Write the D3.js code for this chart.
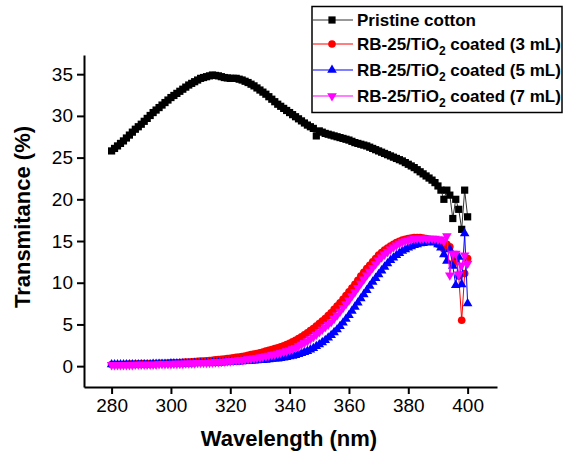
<!DOCTYPE html>
<html>
<head>
<meta charset="utf-8">
<script src="https://cdn.jsdelivr.net/npm/d3@7"></script>
<style>
  body { margin: 0; background: #fff; }
  svg { display: block; font-family: "Liberation Sans", Arial, sans-serif; }
</style>
</head>
<body>
<svg></svg>
<script>
const width = 565;
const height = 453;

// wavelengths (nm), 1 nm steps
const wavelength = [
  280, 281, 282, 283, 284, 285, 286, 287, 288, 289,
  290, 291, 292, 293, 294, 295, 296, 297, 298, 299,
  300, 301, 302, 303, 304, 305, 306, 307, 308, 309,
  310, 311, 312, 313, 314, 315, 316, 317, 318, 319,
  320, 321, 322, 323, 324, 325, 326, 327, 328, 329,
  330, 331, 332, 333, 334, 335, 336, 337, 338, 339,
  340, 341, 342, 343, 344, 345, 346, 347, 348, 349,
  350, 351, 352, 353, 354, 355, 356, 357, 358, 359,
  360, 361, 362, 363, 364, 365, 366, 367, 368, 369,
  370, 371, 372, 373, 374, 375, 376, 377, 378, 379,
  380, 381, 382, 383, 384, 385, 386, 387, 388, 389,
  390, 391, 392, 393, 394, 395, 396, 397, 398, 399,
  400
];

const pristine = [
  25.8, 26.1, 26.4, 26.7, 27.0, 27.35, 27.7, 28.05, 28.4, 28.7,
  29.0, 29.35, 29.7, 30.05, 30.4, 30.7, 31.0, 31.3, 31.6, 31.9,
  32.2, 32.45, 32.7, 32.95, 33.2, 33.45, 33.7, 33.9, 34.1, 34.3,
  34.5, 34.6, 34.7, 34.8, 34.9, 34.85, 34.8, 34.7, 34.6, 34.55,
  34.5, 34.5, 34.5, 34.4, 34.3, 34.15, 34.0, 33.8, 33.6, 33.35,
  33.1, 32.85, 32.6, 32.3, 32.0, 31.7, 31.4, 31.15, 30.9, 30.65,
  30.4, 30.15, 29.9, 29.65, 29.4, 29.15, 28.9, 28.7, 28.5, 27.6,
  28.2, 28.05, 27.9, 27.8, 27.7, 27.6, 27.5, 27.4, 27.3, 27.2,
  27.1, 26.95, 26.8, 26.7, 26.6, 26.5, 26.4, 26.25, 26.1, 25.95,
  25.8, 25.65, 25.5, 25.35, 25.2, 25.05, 24.9, 24.75, 24.6, 24.4,
  24.2, 24.0, 23.8, 23.55, 23.3, 23.05, 22.8, 22.55, 22.3, 22.0,
  21.6, 21.1, 20.0, 21.1, 20.5, 17.7, 20.0, 18.8, 16.4, 21.1,
  17.9
];

const coated3 = [
  0.2, 0.2, 0.2, 0.2, 0.2, 0.22, 0.25, 0.25, 0.25, 0.28,
  0.3, 0.3, 0.3, 0.3, 0.3, 0.32, 0.35, 0.35, 0.35, 0.38,
  0.4, 0.4, 0.4, 0.42, 0.45, 0.48, 0.5, 0.52, 0.55, 0.58,
  0.6, 0.62, 0.65, 0.68, 0.7, 0.75, 0.8, 0.82, 0.85, 0.9,
  0.95, 1.0, 1.05, 1.1, 1.15, 1.22, 1.3, 1.38, 1.45, 1.52,
  1.6, 1.7, 1.8, 1.9, 2.0, 2.1, 2.2, 2.32, 2.45, 2.6,
  2.75, 2.92, 3.1, 3.3, 3.5, 3.75, 4.0, 4.25, 4.5, 4.8,
  5.1, 5.4, 5.7, 6.05, 6.4, 6.8, 7.2, 7.6, 8.0, 8.45,
  8.9, 9.35, 9.8, 10.3, 10.8, 11.25, 11.7, 12.1, 12.5, 12.9,
  13.3, 13.6, 13.9, 14.15, 14.4, 14.6, 14.8, 14.95, 15.1, 15.2,
  15.3, 15.35, 15.4, 15.4, 15.4, 15.35, 15.3, 15.2, 15.1, 14.9,
  14.6, 14.4, 14.0, 14.6, 14.3, 12.3, 12.8, 10.8, 5.5, 11.1,
  12.9
];

const coated5 = [
  0.2, 0.2, 0.2, 0.2, 0.2, 0.2, 0.2, 0.2, 0.2, 0.2,
  0.2, 0.2, 0.2, 0.2, 0.25, 0.25, 0.25, 0.25, 0.25, 0.25,
  0.3, 0.3, 0.3, 0.3, 0.3, 0.3, 0.3, 0.3, 0.35, 0.35,
  0.35, 0.35, 0.35, 0.35, 0.4, 0.4, 0.4, 0.4, 0.45, 0.47,
  0.5, 0.5, 0.5, 0.52, 0.55, 0.58, 0.6, 0.62, 0.65, 0.68,
  0.7, 0.72, 0.75, 0.8, 0.85, 0.88, 0.9, 0.95, 1.0, 1.08,
  1.15, 1.22, 1.3, 1.42, 1.55, 1.68, 1.8, 1.98, 2.15, 2.38,
  2.6, 2.85, 3.1, 3.4, 3.7, 4.05, 4.4, 4.8, 5.2, 5.65,
  6.1, 6.6, 7.1, 7.6, 8.1, 8.6, 9.1, 9.6, 10.1, 10.55,
  11.0, 11.45, 11.9, 12.3, 12.7, 13.0, 13.3, 13.55, 13.8, 14.0,
  14.2, 14.35, 14.5, 14.6, 14.7, 14.75, 14.8, 14.85, 14.9, 14.8,
  14.6, 14.2, 13.4, 12.6, 14.0, 12.0, 9.7, 13.1, 9.8, 15.9,
  7.5
];

const coated7 = [
  0.15, 0.15, 0.15, 0.15, 0.15, 0.15, 0.15, 0.15, 0.2, 0.2,
  0.2, 0.2, 0.2, 0.2, 0.2, 0.2, 0.25, 0.25, 0.25, 0.25,
  0.25, 0.3, 0.3, 0.3, 0.3, 0.35, 0.35, 0.35, 0.35, 0.4,
  0.4, 0.4, 0.4, 0.42, 0.45, 0.48, 0.5, 0.52, 0.55, 0.58,
  0.6, 0.65, 0.7, 0.72, 0.75, 0.8, 0.85, 0.9, 0.95, 1.0,
  1.05, 1.12, 1.2, 1.28, 1.35, 1.42, 1.5, 1.6, 1.7, 1.8,
  1.9, 2.05, 2.2, 2.4, 2.6, 2.8, 3.0, 3.25, 3.5, 3.8,
  4.1, 4.4, 4.7, 5.0, 5.3, 5.7, 6.1, 6.55, 7.0, 7.45,
  7.9, 8.4, 8.9, 9.4, 9.9, 10.4, 10.9, 11.35, 11.8, 12.25,
  12.7, 13.05, 13.4, 13.7, 14.0, 14.25, 14.5, 14.7, 14.9, 15.0,
  15.1, 15.2, 15.3, 15.3, 15.3, 15.3, 15.3, 15.3, 15.3, 15.3,
  15.2, 15.2, 15.0, 15.6, 10.9, 13.5, 13.5, 11.0, 12.1, 13.3,
  12.3
];

const xTicks = [280, 300, 320, 340, 360, 380, 400];
const yTicks = [0, 5, 10, 15, 20, 25, 30, 35];

const series = [
  { name: "Pristine cotton", sub: null, values: pristine, color: "#000", line: "#333", symbol: d3.symbolSquare, size: 52, rot: 0 },
  { name: "RB-25/TiO", sub: " coated (3 mL)", values: coated3, color: "#ff0000", line: "#ff0000", symbol: d3.symbolCircle, size: 46, rot: 0 },
  { name: "RB-25/TiO", sub: " coated (5 mL)", values: coated5, color: "#0000ff", line: "#0000ff", symbol: d3.symbolTriangle, size: 40, rot: 0 },
  { name: "RB-25/TiO", sub: " coated (7 mL)", values: coated7, color: "#ff00ff", line: "#ff00ff", symbol: d3.symbolTriangle, size: 40, rot: 180 }
];

const svg = d3.select("svg")
  .attr("width", width)
  .attr("height", height);

const x = d3.scaleLinear().domain([270.7, 409.9]).range([84, 497]);
const y = d3.scaleLinear().domain([-2.5, 37.3]).range([387, 55]);

// axes
const xAxis = svg.append("g")
  .attr("transform", `translate(0,${y.range()[0]})`)
  .call(d3.axisBottom(x).tickValues(xTicks).tickSize(7).tickSizeOuter(0).tickPadding(5));
const yAxis = svg.append("g")
  .attr("transform", `translate(${x.range()[0]},0)`)
  .call(d3.axisLeft(y).tickValues(yTicks).tickSize(7).tickSizeOuter(0).tickPadding(4));

[xAxis, yAxis].forEach(g => {
  g.select(".domain").attr("stroke", "#000").attr("stroke-width", 2);
  g.selectAll(".tick line").attr("stroke", "#000").attr("stroke-width", 2);
  g.selectAll(".tick text")
    .attr("fill", "#000")
    .style("font-size", "19px")
    .style("font-family", "'Liberation Sans', Arial, sans-serif");
});

// axis titles
svg.append("text")
  .attr("x", 289)
  .attr("y", 446)
  .attr("text-anchor", "middle")
  .style("font-size", "22px")
  .style("font-weight", "bold")
  .text("Wavelength (nm)");

svg.append("text")
  .attr("transform", "translate(30,217) rotate(-90)")
  .attr("text-anchor", "middle")
  .style("font-size", "22px")
  .style("font-weight", "bold")
  .text("Transmitance (%)");

// series
const line = d3.line()
  .x((d, i) => x(wavelength[i]))
  .y(d => y(d));

series.forEach(s => {
  const g = svg.append("g");
  g.append("path")
    .datum(s.values)
    .attr("fill", "none")
    .attr("stroke", s.line)
    .attr("stroke-width", 1)
    .attr("d", line);
  g.selectAll("path.pt")
    .data(s.values)
    .enter()
    .append("path")
    .attr("class", "pt")
    .attr("d", d3.symbol().type(s.symbol).size(s.size))
    .attr("transform", (d, i) => `translate(${x(wavelength[i])},${y(d)}) rotate(${s.rot})`)
    .attr("fill", s.color);
});

// legend
const legend = svg.append("g");
legend.append("rect")
  .attr("x", 312)
  .attr("y", 6.5)
  .attr("width", 250)
  .attr("height", 106)
  .attr("fill", "#fff")
  .attr("stroke", "#000")
  .attr("stroke-width", 1.5);

const rowY = [20, 44, 70, 96];
series.forEach((s, i) => {
  const row = legend.append("g").attr("transform", `translate(0,${rowY[i]})`);
  row.append("line")
    .attr("x1", 313).attr("x2", 353)
    .attr("stroke", s.line)
    .attr("stroke-width", 1);
  row.append("path")
    .attr("d", d3.symbol().type(s.symbol).size(s.size))
    .attr("transform", `translate(332,0) rotate(${s.rot})`)
    .attr("fill", s.color);
  const t = row.append("text")
    .attr("x", 357)
    .attr("y", 6)
    .style("font-size", "17px")
    .style("font-weight", "bold");
  t.append("tspan").text(s.name);
  if (s.sub) {
    t.append("tspan").attr("dy", 5).style("font-size", "12px").text("2");
    t.append("tspan").attr("dy", -5).text(s.sub);
  }
});
</script>
</body>
</html>
